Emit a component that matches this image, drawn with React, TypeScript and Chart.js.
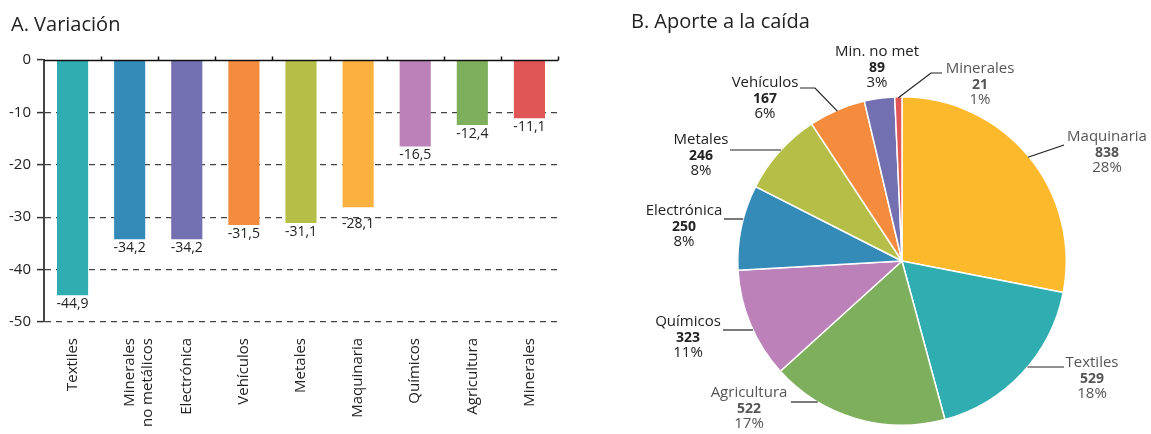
import React, { useEffect, useRef } from 'react';
import { Chart, registerables } from 'chart.js';

Chart.register(...registerables);

const FONT = "'Open Sans', 'DejaVu Sans', sans-serif";

// ---- Panel A data ----
const barLabels: (string | string[])[] = [
  'Textiles',
  ['Minerales', 'no metálicos'],
  'Electrónica',
  'Vehículos',
  'Metales',
  'Maquinaria',
  'Químicos',
  'Agricultura',
  'Minerales',
];
const barValues = [-44.9, -34.2, -34.2, -31.5, -31.1, -28.1, -16.5, -12.4, -11.1];
const barColors = ['#2fadb0', '#358bb8', '#7370b1', '#f58b3c', '#b5bf48', '#fbb03f', '#bb81b8', '#7eaf5d', '#e05555'];
const yTickValues = [0, -10, -20, -30, -40, -50];
// extra downward shift of value labels (px) to keep clear of grid lines
const barLabelShift = [0, 0, 0, 0, 0, 8, 0, 0, 0];

// ---- Panel B data ----
const pieLabels = ['Maquinaria', 'Textiles', 'Agricultura', 'Químicos', 'Electrónica', 'Metales', 'Vehículos', 'Min. no met', 'Minerales'];
const pieValues = [838, 529, 522, 323, 250, 246, 167, 89, 21];
const pieColors = ['#fdb92c', '#30adb0', '#7eaf5d', '#bb81b8', '#358bb8', '#b5bf48', '#f58b3c', '#7370b1', '#e05555'];

// label layout (page coordinates of label text and leader elbows)
type Leader = { type: 'h'; x: number; y: number } | { type: 'mid'; pts: number[][] } | null;
const pieLabelLayout: { x: number; y: number; color: string; leader: Leader }[] = [
  { x: 1107, y: 137, color: '#555', leader: { type: 'mid', pts: [[1064, 145]] } },
  { x: 1092, y: 363, color: '#555', leader: { type: 'h', x: 1064, y: 367 } },
  { x: 749, y: 393, color: '#555', leader: { type: 'h', x: 791, y: 402 } },
  { x: 688, y: 322, color: '#222', leader: { type: 'h', x: 723, y: 330 } },
  { x: 684, y: 211, color: '#222', leader: { type: 'h', x: 724, y: 219 } },
  { x: 701, y: 140, color: '#222', leader: { type: 'h', x: 730, y: 150 } },
  { x: 765, y: 83, color: '#222', leader: { type: 'mid', pts: [[800, 88], [815, 88]] } },
  { x: 877, y: 52, color: '#222', leader: null },
  { x: 980, y: 69, color: '#555', leader: { type: 'mid', pts: [[942, 73], [931, 73]] } },
];

const fmtComma = (v: number) => v.toFixed(1).replace('.', ',');

const barPlugin = {
  id: 'barExtras',
  afterDatasetsDraw(chart: any) {
    const ctx = chart.ctx;
    const meta = chart.getDatasetMeta(0);
    ctx.save();
    ctx.fillStyle = '#222';
    ctx.font = `14px ${FONT}`;
    ctx.textAlign = 'center';
    ctx.textBaseline = 'top';
    meta.data.forEach((bar: any, i: number) => {
      ctx.fillText(fmtComma(barValues[i]), bar.x, bar.y + 2 + barLabelShift[i]);
    });
    ctx.restore();
  },
  afterDraw(chart: any) {
    const ctx = chart.ctx;
    const x = chart.scales.x;
    const y = chart.scales.y;
    const y0 = Math.round(y.getPixelForValue(0)) + 0.5;
    ctx.save();
    ctx.strokeStyle = '#111';
    ctx.lineWidth = 1.5;
    ctx.beginPath();
    ctx.moveTo(x.left, y0);
    ctx.lineTo(x.right, y0);
    ctx.stroke();
    ctx.lineWidth = 1.5;
    ctx.beginPath();
    const n = barLabels.length;
    for (let k = 1; k <= n; k++) {
      const px = Math.round(x.left + ((x.right - x.left) * k) / n) + 0.5;
      ctx.moveTo(px, y0);
      ctx.lineTo(px, y0 - 4);
    }
    ctx.stroke();
    ctx.restore();
  },
};

const piePlugin = {
  id: 'pieLabels',
  afterDraw(chart: any) {
    const ctx = chart.ctx;
    const meta = chart.getDatasetMeta(0);
    const total = pieValues.reduce((a, b) => a + b, 0);
    ctx.save();
    meta.data.forEach((arc: any, i: number) => {
      const p = arc.getProps(['x', 'y', 'startAngle', 'endAngle', 'outerRadius'], true);
      const lay = pieLabelLayout[i];
      if (lay.leader) {
        ctx.strokeStyle = '#222';
        ctx.lineWidth = 1.2;
        ctx.beginPath();
        if (lay.leader.type === 'h') {
          const dy = lay.leader.y - p.y;
          const dx = Math.sqrt(Math.max(p.outerRadius * p.outerRadius - dy * dy, 0));
          const ex = lay.leader.x < p.x ? p.x - dx : p.x + dx;
          ctx.moveTo(lay.leader.x, lay.leader.y);
          ctx.lineTo(ex, lay.leader.y);
        } else {
          const mid = (p.startAngle + p.endAngle) / 2;
          const ex = p.x + Math.cos(mid) * (p.outerRadius - 1);
          const ey = p.y + Math.sin(mid) * (p.outerRadius - 1);
          lay.leader.pts.forEach((pt, k) => (k === 0 ? ctx.moveTo(pt[0], pt[1]) : ctx.lineTo(pt[0], pt[1])));
          ctx.lineTo(ex, ey);
        }
        ctx.stroke();
      }
      ctx.fillStyle = lay.color;
      ctx.textAlign = 'center';
      ctx.textBaseline = 'middle';
      ctx.font = `15px ${FONT}`;
      ctx.fillText(pieLabels[i], lay.x, lay.y);
      ctx.font = `bold 14px ${FONT}`;
      ctx.fillText(String(pieValues[i]), lay.x, lay.y + 16);
      ctx.font = `15px ${FONT}`;
      ctx.fillText(Math.round((pieValues[i] / total) * 100) + '%', lay.x, lay.y + 31);
    });
    ctx.restore();
  },
};

export default function App() {
  const barRef = useRef<HTMLCanvasElement>(null);
  const pieRef = useRef<HTMLCanvasElement>(null);

  useEffect(() => {
    const bar = new Chart(barRef.current as HTMLCanvasElement, {
      type: 'bar',
      data: {
        labels: barLabels as any,
        datasets: [
          {
            data: barValues,
            backgroundColor: barColors,
            borderWidth: 0,
            barPercentage: 1,
            categoryPercentage: 0.545,
          },
        ],
      },
      options: {
        animation: false,
        responsive: false,
        devicePixelRatio: 1,
        layout: { padding: { top: 60, right: 22, left: 0, bottom: 0 } },
        plugins: { legend: { display: false }, tooltip: { enabled: false } },
        scales: {
          x: {
            position: 'bottom',
            grid: { display: false },
            border: { display: false },
            ticks: {
              autoSkip: false,
              minRotation: 90,
              maxRotation: 90,
              padding: 8,
              color: '#222',
              font: { family: FONT, size: 15 },
            },
            afterFit: (s: any) => {
              s.height = 112;
            },
          },
          y: {
            min: -50,
            max: 0,
            afterBuildTicks: (s: any) => {
              s.ticks = yTickValues.map((v) => ({ value: v }));
            },
            afterFit: (s: any) => {
              s.width = 44;
            },
            ticks: {
              color: '#222',
              padding: 6,
              font: { family: FONT, size: 15 },
              callback: (v: any) => String(v),
            },
            grid: {
              color: (c: any) => (c.tick && c.tick.value === 0 ? 'rgba(0,0,0,0)' : '#444'),
              tickColor: '#333',
              tickLength: 7,
              lineWidth: 1.2,
              tickWidth: 1.5,
            },
            border: { display: true, color: '#444', width: 2, dash: [6, 5] },
          },
        },
      },
      plugins: [barPlugin],
    });

    const pie = new Chart(pieRef.current as HTMLCanvasElement, {
      type: 'pie',
      data: {
        labels: pieLabels,
        datasets: [
          {
            data: pieValues,
            backgroundColor: pieColors,
            borderColor: '#ffffff',
            borderWidth: 1.5,
          },
        ],
      },
      options: {
        animation: false,
        responsive: false,
        devicePixelRatio: 1,
        layout: { padding: { left: 737, right: 84, top: 96, bottom: 8 } },
        plugins: { legend: { display: false }, tooltip: { enabled: false } },
      },
      plugins: [piePlugin],
    });

    return () => {
      bar.destroy();
      pie.destroy();
    };
  }, []);

  const titleStyle: React.CSSProperties = {
    position: 'absolute',
    fontFamily: FONT,
    fontSize: 20,
    color: '#222',
    lineHeight: '24px',
    whiteSpace: 'nowrap',
  };

  return (
    <div style={{ position: 'absolute', left: 0, top: 0, width: 1151, height: 434, background: '#fff' }}>
      <canvas ref={pieRef} width={1151} height={434} style={{ position: 'absolute', left: 0, top: 0 }} />
      <canvas ref={barRef} width={580} height={434} style={{ position: 'absolute', left: 0, top: 0 }} />
      <div style={{ ...titleStyle, left: 11, top: 12 }}>A. Variación</div>
      <div style={{ ...titleStyle, left: 631, top: 9 }}>B. Aporte a la caída</div>
    </div>
  );
}
